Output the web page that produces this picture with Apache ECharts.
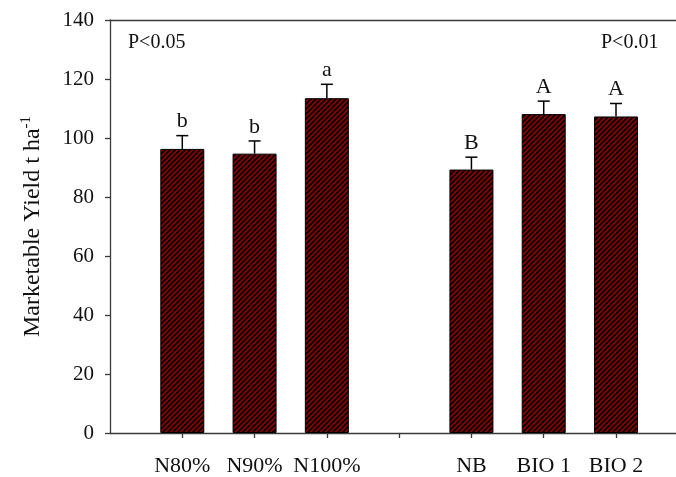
<!DOCTYPE html>
<html>
<head>
<meta charset="utf-8">
<script src="https://cdn.jsdelivr.net/npm/echarts@6/dist/echarts.min.js"></script>
<style>
  html, body { margin: 0; padding: 0; background: #fff; }
  #main { width: 676px; height: 477px; }
</style>
</head>
<body>
<div id="main"></div>
<script>
// treatments, position 4 is the empty gap between the two groups
var categories = ['N80%', 'N90%', 'N100%', '', 'NB', 'BIO 1', 'BIO 2']
var yieldValues = [96.3, 94.7, 113.5, null, 89.3, 108.1, 107.3]
var errValues = [4.5, 4.3, 4.7, null, 4.2, 4.4, 4.4]
var letters = ['b', 'b', 'a', '', 'B', 'A', 'A']
var pLabels = ['P<0.05', 'P<0.01']

var FONT = '"Liberation Serif", "Times New Roman", serif'
var AXIS_COLOR = '#3a3a3a'

// hatched fill: dark red with black diagonal stripes
function makeHatch() {
  var s = 5
  var c = document.createElement('canvas')
  c.width = s
  c.height = s
  var ctx = c.getContext('2d')
  ctx.fillStyle = '#9c0303'
  ctx.fillRect(0, 0, s, s)
  ctx.strokeStyle = '#120000'
  ctx.lineWidth = 2.2
  ctx.beginPath()
  ctx.moveTo(-1, s + 1); ctx.lineTo(s + 1, -1)
  ctx.moveTo(-1, 1); ctx.lineTo(1, -1)
  ctx.moveTo(s - 1, s + 1); ctx.lineTo(s + 1, s - 1)
  ctx.stroke()
  return c
}

var barData = [], errData = [], tickPos = [], labelPos = []
for (var i = 0; i < categories.length; i++) {
  tickPos.push(i + 1)
  if (categories[i]) labelPos.push(i + 1)
  if (yieldValues[i] == null) continue
  barData.push([i + 1, yieldValues[i]])
  errData.push([i + 1, yieldValues[i], errValues[i], letters[i]])
}

// plot runs past the right edge of the picture
var X_MAX = 7.83

var chart = echarts.init(document.getElementById('main'))
chart.setOption({
  animation: false,
  grid: { left: 110, top: 20, bottom: 43.7, right: 0 },
  xAxis: [{
    type: 'value',
    min: 0, max: X_MAX,
    axisLine: { lineStyle: { color: AXIS_COLOR, width: 1.3 } },
    axisTick: { show: true, length: 5, customValues: tickPos, lineStyle: { color: AXIS_COLOR, width: 1.3 } },
    axisLabel: {
      margin: 22,
      customValues: labelPos,
      fontFamily: FONT, fontSize: 22, color: '#111',
      formatter: function (v) { return categories[Math.round(v) - 1] || '' }
    },
    splitLine: { show: false }
  }, {
    type: 'value',
    position: 'top',
    min: 0, max: X_MAX,
    axisLine: { show: true, lineStyle: { color: AXIS_COLOR, width: 1.3 } },
    axisTick: { show: false },
    axisLabel: { show: false },
    splitLine: { show: false }
  }],
  yAxis: {
    type: 'value',
    min: 0, max: 140, interval: 20,
    name: '{m|Marketable Yield t ha}{s|-1}',
    nameLocation: 'middle',
    nameGap: 63,
    nameRotate: 90,
    nameTextStyle: {
      rich: {
        m: { fontFamily: FONT, fontSize: 24, color: '#111', lineHeight: 28 },
        s: { fontFamily: FONT, fontSize: 15, color: '#111', verticalAlign: 'top', lineHeight: 28 }
      }
    },
    axisLine: { show: true, lineStyle: { color: AXIS_COLOR, width: 1.3 } },
    axisTick: { show: true, length: 5, lineStyle: { color: AXIS_COLOR, width: 1.3 } },
    axisLabel: { margin: 16, fontFamily: FONT, fontSize: 21, color: '#111' },
    splitLine: { show: false }
  },
  graphic: [
    { type: 'text', left: 128, top: 33, style: { text: pLabels[0], font: '20px ' + FONT, fill: '#111' } },
    { type: 'text', left: 601, top: 33, style: { text: pLabels[1], font: '20px ' + FONT, fill: '#111' } }
  ],
  series: [
    {
      type: 'bar',
      data: barData,
      barWidth: 44,
      itemStyle: {
        color: { image: makeHatch(), repeat: 'repeat' },
        borderColor: '#000',
        borderWidth: 1
      }
    },
    {
      type: 'custom',
      data: errData,
      clip: false,
      z: 5,
      renderItem: function (params, api) {
        var x = api.value(0), v = api.value(1), e = api.value(2)
        var base = api.coord([x, v])
        var top = api.coord([x, v + e])
        var letter = errData[params.dataIndex][3]
        var st = { stroke: '#000', lineWidth: 1.5 }
        return {
          type: 'group',
          children: [
            { type: 'line', shape: { x1: base[0], y1: base[1], x2: top[0], y2: top[1] }, style: st },
            { type: 'line', shape: { x1: top[0] - 6, y1: top[1], x2: top[0] + 6, y2: top[1] }, style: st },
            {
              type: 'text', x: top[0], y: top[1] - 3,
              style: {
                text: letter, font: '22px ' + FONT, fill: '#111',
                align: 'center', verticalAlign: 'bottom',
                textAlign: 'center', textVerticalAlign: 'bottom'
              }
            }
          ]
        }
      }
    }
  ]
})
</script>
</body>
</html>
